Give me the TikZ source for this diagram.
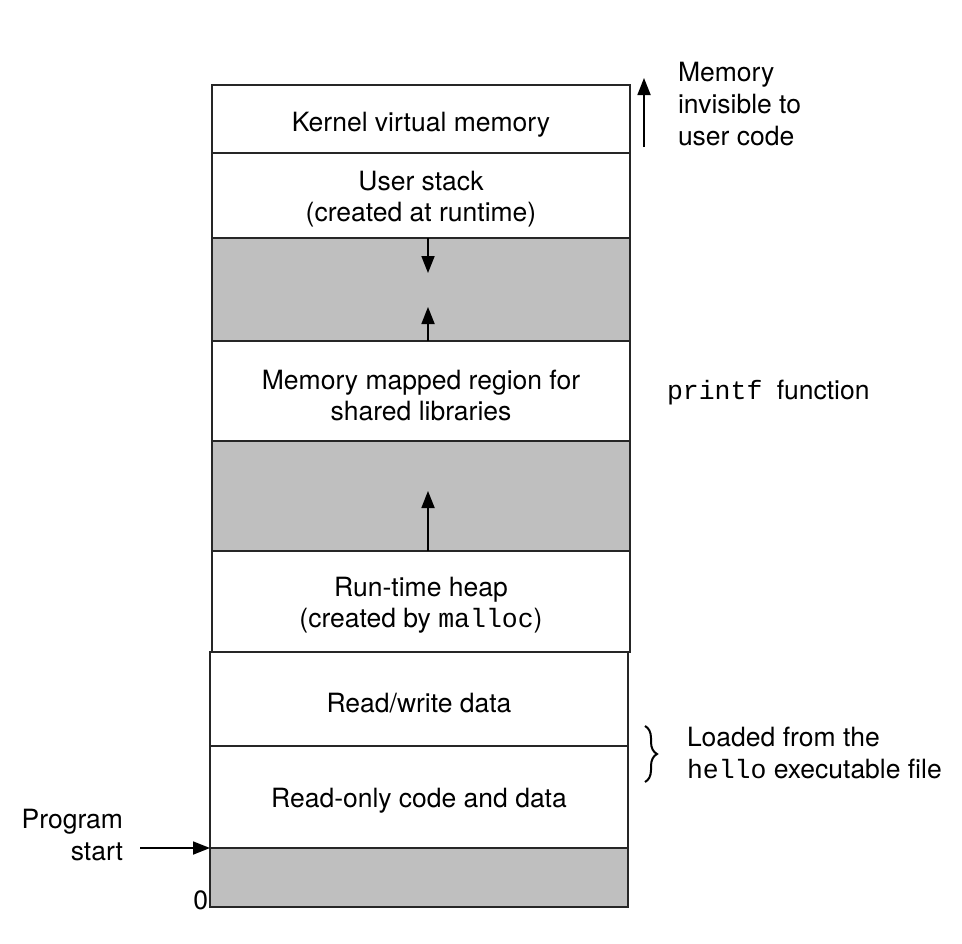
\documentclass[tikz,border=0pt]{standalone}
\usepackage{fontspec}
\setmainfont{TeX Gyre Heros}
\setmonofont{Liberation Mono}
\usetikzlibrary{arrows.meta,decorations.pathreplacing}
\definecolor{shade}{RGB}{191,191,191}
\begin{document}
\begin{tikzpicture}[x=1bp,y=-1bp,
  region/.style={draw=black!85, line width=1.3bp, minimum width=418bp, inner sep=0pt, outer sep=0pt,
    anchor=north west},
  gapregion/.style={region, fill=shade},
  txt/.style={inner sep=0pt, outer sep=0pt, align=center, yshift=-4bp, font=\fontsize{26.5bp}{31bp}\selectfont},
  lbl/.style={inner sep=0pt, outer sep=0pt, font=\fontsize{26.5bp}{32bp}\selectfont},
  arr/.style={line width=1.8bp, -{Triangle[width=13bp,length=17bp]}}]
\path[use as bounding box] (0,0) rectangle (962,944);
% upper column
\node[region, minimum height=68bp] (kernel) at (212,85) {};
\node[region, minimum height=85bp] (stack) at (212,153) {};
\node[gapregion, minimum height=103bp] (gapA) at (212,238) {};
\node[region, minimum height=100bp] (mmap) at (212,341) {};
\node[gapregion, minimum height=110bp] (gapB) at (212,441) {};
\node[region, minimum height=101bp] (heap) at (212,551) {};
% lower column
\node[region, minimum height=94bp] (rw) at (210,652) {};
\node[region, minimum height=102bp] (ro) at (210,746) {};
\node[gapregion, minimum height=59bp] (base) at (210,848) {};
% region texts
\node[txt, yshift=-2bp] (kernelT) at (kernel.center) {Kernel virtual memory};
\node[txt] (stackT) at (stack.center) {User stack\\(created at runtime)};
\node[txt] (mmapT) at (mmap.center) {Memory mapped region for\\shared libraries};
\node[txt] (heapT) at (heap.center) {Run-time heap\\(created by \texttt{malloc})};
\node[txt] (rwT) at (rw.center) {Read/write data};
\node[txt] (roT) at (ro.center) {Read-only code and data};
% growth arrows
\coordinate (stackTip) at (428,273);
\coordinate (mmapTip) at (428,307);
\coordinate (heapTip) at (428,491);
\draw[arr] (stack.south -| stackTip) -- (stackTip);
\draw[arr] (mmap.north -| mmapTip) -- (mmapTip);
\draw[arr] (heap.north -| heapTip) -- (heapTip);
% annotations
\coordinate (invBot) at (644,147);
\coordinate (invTop) at (644,78);
\draw[arr] (invBot) -- (invTop);
\node[lbl, anchor=north west, align=left] (invisible) at (678,62) {Memory\\invisible to\\user code};
\node[lbl, anchor=base west] (printf) at (667,399) {\texttt{printf}\hspace{7bp} function};
\draw[line width=2bp, decorate, decoration={brace, amplitude=12bp}] (645,726) -- (645,782);
\node[lbl, anchor=north west, align=left] (loaded) at (687,727) {Loaded from the\\\texttt{hello} executable file};
\node[lbl, anchor=north east, align=right] (start) at (123,809) {Program\\start};
\coordinate (startTail) at (140,848);
\draw[arr] (startTail) -- (base.north west);
\node[lbl, anchor=base east] (zero) at (208,909) {0};
\end{tikzpicture}
\end{document}
